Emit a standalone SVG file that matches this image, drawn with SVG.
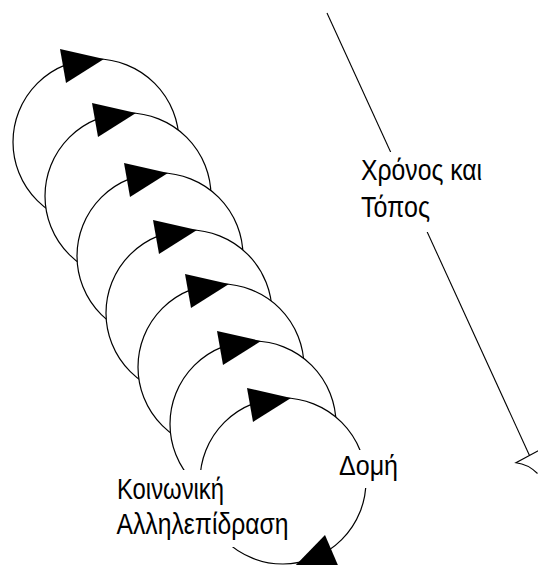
<svg xmlns="http://www.w3.org/2000/svg" width="538" height="565" viewBox="0 0 538 565">
<style>
.c{fill:#fff;stroke:#000;stroke-width:1.2}
.a{fill:#000;stroke:none}
.t{font-family:"Liberation Sans",Arial,sans-serif;font-size:30px;fill:#000}
.bg{fill:#fff;stroke:none}
.ln{fill:none;stroke:#000;stroke-width:1.1}
</style>
<defs>
<polygon id="tri" points="-36,-93 8,-83 -30,-59"/>
</defs>
<rect width="538" height="565" fill="#fff"/>
<g id="connectors">
<line class="ln" x1="327" y1="13" x2="529.5" y2="455.5"/>
<path class="ln" d="M538.5,450.5 L516,462.7 Q528,464 537.5,473.5"/>
</g>
<g id="cycle1"><circle class="c" cx="96" cy="142" r="83"/><use href="#tri" class="a" x="96" y="142"/></g>
<g id="cycle2"><circle class="c" cx="128" cy="196" r="83"/><use href="#tri" class="a" x="128" y="196"/></g>
<g id="cycle3"><circle class="c" cx="160" cy="256" r="83"/><use href="#tri" class="a" x="160" y="256"/></g>
<g id="cycle4"><circle class="c" cx="189" cy="313" r="83"/><use href="#tri" class="a" x="189" y="313"/></g>
<g id="cycle5"><circle class="c" cx="221" cy="367" r="83"/><use href="#tri" class="a" x="221" y="367"/></g>
<g id="cycle6"><circle class="c" cx="253" cy="424" r="83"/><use href="#tri" class="a" x="253" y="424"/></g>
<g id="cycle7"><circle class="c" cx="283" cy="481" r="83"/><use href="#tri" class="a" x="283" y="481"/>
<polygon class="a" points="325,535 338.6,566.7 293.6,567.3"/></g>
<g id="label-time-place">
<rect class="bg" x="356" y="152" width="132" height="80"/>
<text class="t" x="361" y="180" textLength="121" lengthAdjust="spacingAndGlyphs">Χρόνος και</text>
<text class="t" x="361" y="216.5" textLength="69" lengthAdjust="spacingAndGlyphs">Τόπος</text>
</g>
<g id="label-structure">
<rect class="bg" x="334" y="450" width="70" height="38"/>
<text class="t" x="339" y="474.5" style="font-size:28px" textLength="59" lengthAdjust="spacingAndGlyphs">Δομή</text>
</g>
<g id="label-interaction">
<rect class="bg" x="110" y="470" width="186" height="77"/>
<text class="t" x="117" y="498.5" textLength="107" lengthAdjust="spacingAndGlyphs">Κοινωνική</text>
<text class="t" x="116.5" y="533.5" textLength="172" lengthAdjust="spacingAndGlyphs">Αλληλεπίδραση</text>
</g>
</svg>
